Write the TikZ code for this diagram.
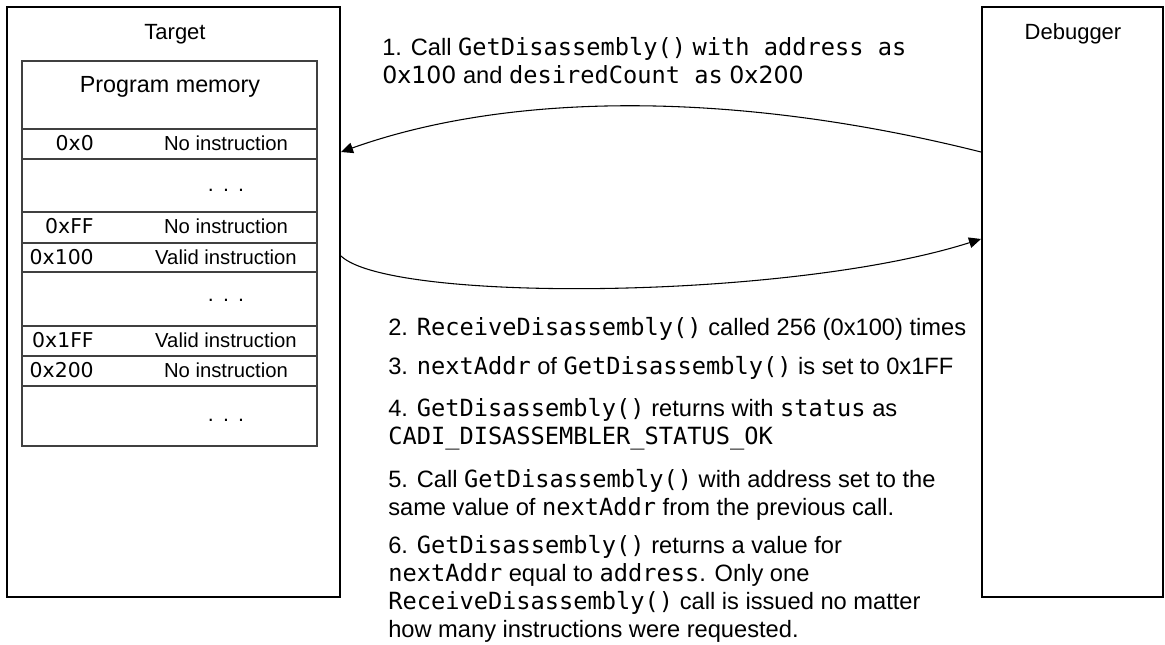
\documentclass[tikz,border=0pt]{standalone}
\usepackage{fontspec}
\setmainfont{Liberation Sans}
\newfontfamily\monof{DejaVu Sans Mono}
\newfontfamily\dvf{DejaVu Sans}
\usetikzlibrary{arrows.meta}
\newcommand\codetxt[1]{{\monof #1}}
\newcommand\dvtxt[1]{{\dvf #1}}
\begin{document}
\begin{tikzpicture}[x=0.75pt,y=-0.75pt,
  box/.style={draw=black,line width=1.5pt,minimum height=442.5pt,inner sep=0pt},
  tbl/.style={draw=black!75,line width=0.9pt},
  title/.style={font=\fontsize{16.5pt}{19pt}\selectfont,anchor=base,inner sep=0pt},
  addr/.style={font=\dvf\fontsize{15.3pt}{18pt}\selectfont,anchor=base east,inner sep=0pt},
  instr/.style={font=\fontsize{15.2pt}{18pt}\selectfont,anchor=base,inner sep=0pt},
  dotsrow/.style={font=\fontsize{16pt}{18pt}\selectfont,anchor=base,inner sep=0pt},
  stepline/.style={font=\fontsize{17.75pt}{21.4pt}\selectfont,anchor=base west,inner sep=0pt},
  conn/.style={line width=0.8pt,-{Triangle[length=9pt,width=8pt]}}]

\useasboundingbox[fill=white] (0,0) rectangle (1165,645);

% outer boxes
\node[box,minimum width=249.75pt] (target) at (173.5,302) {};
\node[box,minimum width=135.75pt] (debugger) at (1072.5,302) {};
\node[title] (ttarget) at (175,40) {Target};
\node[title] (tdebug) at (1073,40) {Debugger};

% program memory table
\draw[tbl] (22,61) rectangle (317,129);
\draw[tbl] (22,129) rectangle (317,159);
\draw[tbl] (22,159) rectangle (317,212);
\draw[tbl] (22,212) rectangle (317,243);
\draw[tbl] (22,243) rectangle (317,272);
\draw[tbl] (22,272) rectangle (317,326);
\draw[tbl] (22,326) rectangle (317,356);
\draw[tbl] (22,356) rectangle (317,386);
\draw[tbl] (22,386) rectangle (317,446);

\node[font=\fontsize{17.5pt}{20pt}\selectfont,anchor=base,inner sep=0pt] (pm) at (170,93) {Program memory};

\node[addr] (a0) at (94,151) {0x0};
\node[instr] (i0) at (226,151) {No instruction};
\node[dotsrow] (d1) at (226,192) {.\kern6.9pt.\kern6.9pt.};
\node[addr] (a1) at (94,234) {0xFF};
\node[instr] (i1) at (226,234) {No instruction};
\node[addr] (a2) at (94,265) {0x100};
\node[instr] (i2) at (226,265) {Valid instruction};
\node[dotsrow] (d2) at (226,302) {.\kern6.9pt.\kern6.9pt.};
\node[addr] (a3) at (94,348) {0x1FF};
\node[instr] (i3) at (226,348) {Valid instruction};
\node[addr] (a4) at (94,378) {0x200};
\node[instr] (i4) at (226,378) {No instruction};
\node[dotsrow] (d3) at (226,422) {.\kern6.9pt.\kern6.9pt.};

% step texts
\node[stepline] (s1a) at (382,56) {1. Call \codetxt{GetDisassembly()} \codetxt{with address as}};
\node[stepline] (s1b) at (382,84) {\dvtxt{0x100} and \codetxt{desiredCount as} \dvtxt{0x200}};
\node[stepline] (s2) at (388,336) {2. \codetxt{ReceiveDisassembly()} called 256 (0x100) times};
\node[stepline] (s3) at (388,375) {3. \codetxt{nextAddr} of \codetxt{GetDisassembly()} is set to 0x1FF};
\node[stepline] (s4a) at (388,417) {4. \codetxt{GetDisassembly()} returns with \codetxt{status} as};
\node[stepline] (s4b) at (388,445) {\codetxt{CADI\_DISASSEMBLER\_STATUS\_OK}};
\node[stepline] (s5a) at (388,488) {5. Call \codetxt{GetDisassembly()} with address set to the};
\node[stepline] (s5b) at (388,516) {same value of \codetxt{nextAddr} from the previous call.};
\node[stepline] (s6a) at (388,553) {6. \codetxt{GetDisassembly()} returns a value for};
\node[stepline] (s6b) at (388,581) {\codetxt{nextAddr} equal to \codetxt{address}. Only one};
\node[stepline] (s6c) at (388,609) {\codetxt{ReceiveDisassembly()} call is issued no matter};
\node[stepline] (s6d) at (388,637) {how many instructions were requested.};

% connectors
\draw[conn] ([shift={(0,-150)}]debugger.west) .. controls (738,91) and (512,91) .. ([shift={(0,-150)}]target.east);
\draw[conn] ([shift={(0,-46)}]target.east) .. controls (390,303) and (790,300) .. ([shift={(0,-63)}]debugger.west);
\end{tikzpicture}
\end{document}
